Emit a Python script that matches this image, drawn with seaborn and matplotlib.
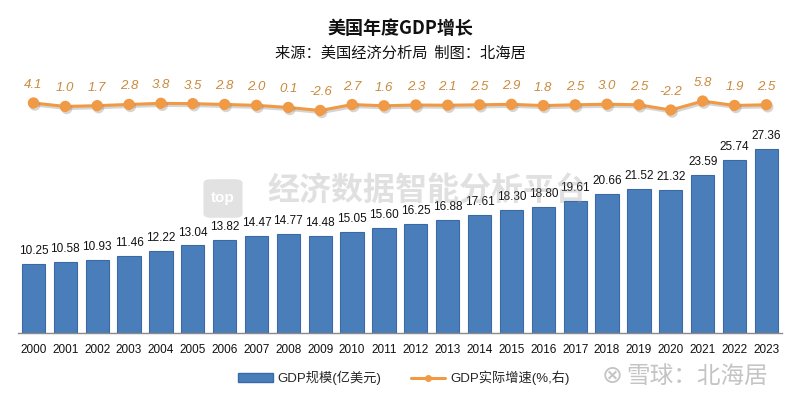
import numpy as np
import pandas as pd
import matplotlib
matplotlib.use('Agg')
import matplotlib.pyplot as plt
import matplotlib.patheffects as pe
from matplotlib.patches import FancyBboxPatch
from matplotlib.lines import Line2D
from matplotlib.patches import Patch
import seaborn as sns

years = [str(y) for y in range(2000, 2024)]
gdp = [10.25, 10.58, 10.93, 11.46, 12.22, 13.04, 13.82, 14.47, 14.77, 14.48,
       15.05, 15.60, 16.25, 16.88, 17.61, 18.30, 18.80, 19.61, 20.66, 21.52,
       21.32, 23.59, 25.74, 27.36]
growth = [4.1, 1.0, 1.7, 2.8, 3.8, 3.5, 2.8, 2.0, 0.1, -2.6,
          2.7, 1.6, 2.3, 2.1, 2.5, 2.9, 1.8, 2.5, 3.0, 2.5,
          -2.2, 5.8, 1.9, 2.5]

title = '美国年度GDP增长'
subtitle = '来源：美国经济分析局  制图：北海居'
bar_name = 'GDP规模(亿美元)'
line_name = 'GDP实际增速(%,右)'

bar_color = '#4A7EBB'
line_color = '#F09A45'
label_color = '#C98A3D'

sns.set_theme(style='white')
plt.rcParams['font.family'] = ['Liberation Sans', 'Noto Sans CJK SC', 'DejaVu Sans']
narrow = ['Liberation Sans Narrow', 'Liberation Sans', 'DejaVu Sans']
cjk = ['Noto Sans CJK SC', 'DejaVu Sans']

df = pd.DataFrame({'year': years, 'gdp': gdp, 'growth': growth})

fig = plt.figure(figsize=(8, 4), dpi=100)
fig.patch.set_facecolor('white')
ax = fig.add_axes([0.0219, 0.1675, 0.956, 0.6075])

sns.barplot(data=df, x='year', y='gdp', ax=ax, color=bar_color, width=0.73,
            saturation=1, edgecolor='#3A6AA5', linewidth=0.8)
ax.set_ylim(0, 36.2)
ax.bar_label(ax.containers[0], fmt='%.2f', padding=5, fontsize=8.5,
             family=narrow, color='#111111')

ax2 = ax.twinx()
sns.pointplot(data=df, x='year', y='growth', ax=ax2, color=line_color,
              errorbar=None, markersize=6.5, linewidth=2.2,
              path_effects=[pe.SimpleLineShadow(offset=(1, -1.5), shadow_color='#888888', alpha=0.35),
                            pe.Normal()])
ax2.set_ylim(-201.3, 15.7)
for i, g in enumerate(growth):
    ax2.annotate(f'{g:.1f}', (i, g), xytext=(0, 13), textcoords='offset points',
                 ha='center', va='center', fontsize=9.5, style='italic',
                 family=narrow, color=label_color)

ax.set_xlim(-0.5, len(years) - 0.5)
ax2.set_xlim(-0.5, len(years) - 0.5)
for a in (ax, ax2):
    for s in ['top', 'left', 'right']:
        a.spines[s].set_visible(False)
    a.set_xlabel('')
    a.set_ylabel('')
    a.set_yticks([])
ax2.spines['bottom'].set_visible(False)
ax.spines['bottom'].set_color('#8a8a8a')
ax.spines['bottom'].set_linewidth(1)
ax.tick_params(axis='x', which='major', length=0, pad=8, labelsize=8.5, colors='#111111')
for t in ax.get_xticklabels():
    t.set_family(narrow)
ax.set_xticks(np.arange(-0.5, len(years), 1), minor=True)
ax.tick_params(axis='x', which='minor', length=3, color='#8a8a8a', width=1, direction='out')

fig.text(0.5, 1 - 28 / 400, title, ha='center', va='center', fontsize=13,
         fontweight='bold', family=cjk, color='#111111')
fig.text(0.5, 1 - 53 / 400, subtitle, ha='center', va='center', fontsize=11,
         family=cjk, color='#111111')

# watermarks
fig.text(0.534, 0.52, '经济数据智能分析平台', ha='center', va='center', fontsize=23,
         fontweight='bold', family=cjk, color='#9a9a9a', alpha=0.3)
logo = FancyBboxPatch((205 / 800, 1 - 217 / 400), 36 / 800, 37 / 400,
                      boxstyle='round,pad=0.002,rounding_size=0.01',
                      transform=fig.transFigure, facecolor='#d0d0d0',
                      edgecolor='none', alpha=0.6)
fig.patches.append(logo)
fig.text(223 / 800, 1 - 198 / 400, 'top', ha='center', va='center', fontsize=11,
         fontweight='bold', color='white')
fig.text(697 / 800, 1 - 376 / 400, '雪球：北海居', ha='center', va='center',
         fontsize=17, family=cjk, color='#c4c4c4')
fig.text(612 / 800, 1 - 376 / 400, '⊗', ha='center', va='center',
         fontsize=18, family=['DejaVu Sans'], color='#c4c4c4')

handles = [Patch(facecolor=bar_color, edgecolor='#3A6AA5', label=bar_name),
           Line2D([0], [0], color=line_color, lw=2.2, marker='o', markersize=4, label=line_name)]
fig.legend(handles=handles, loc='center', bbox_to_anchor=(404 / 800, 1 - 378 / 400),
           ncol=2, frameon=False, fontsize=9.5, handlelength=2.6, handleheight=0.6,
           columnspacing=2.2, handletextpad=0.4)

fig.savefig('out.png', dpi=100, facecolor='white')
